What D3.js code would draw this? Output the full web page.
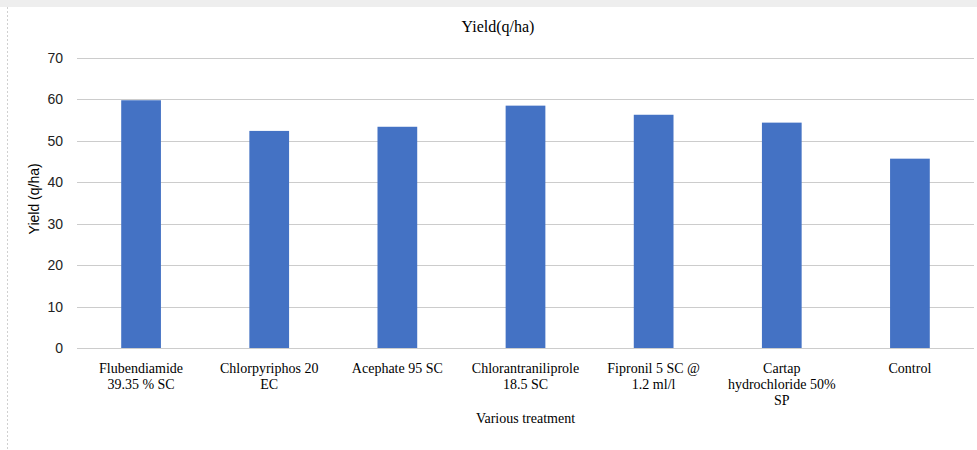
<!DOCTYPE html>
<head>
<meta charset="utf-8">
<style>
body { margin: 0; background: #fff; }
text { fill: #000; }
.xlab { font: 14px "Liberation Serif", serif; }
.ytick { font: 14px "Liberation Sans", sans-serif; fill: #222; }
</style>
</head>
<body>
<script src="https://cdn.jsdelivr.net/npm/d3@7"></script>
<script>
// chart data
var treatments = ["Flubendiamide 39.35 % SC", "Chlorpyriphos 20 EC", "Acephate 95 SC",
  "Chlorantraniliprole 18.5 SC", "Fipronil 5 SC @ 1.2 ml/l", "Cartap hydrochloride 50% SP", "Control"];
var labelLines = [
  ["Flubendiamide", "39.35 % SC"],
  ["Chlorpyriphos 20", "EC"],
  ["Acephate 95 SC"],
  ["Chlorantraniliprole", "18.5 SC"],
  ["Fipronil 5 SC @", "1.2 ml/l"],
  ["Cartap", "hydrochloride 50%", "SP"],
  ["Control"]
];
var yieldValues = [59.8, 52.4, 53.4, 58.5, 56.3, 54.4, 45.7];
var yTicks = [0, 10, 20, 30, 40, 50, 60, 70];

var width = 977, height = 450;
var margin = {left: 77, right: 3, top: 58, bottom: 102};

var svg = d3.select("body").append("svg")
    .attr("width", width)
    .attr("height", height);

// frame bits
svg.append("rect").attr("x", 0).attr("y", 0).attr("width", width).attr("height", 7).attr("fill", "#eeeeee");
svg.append("line").attr("x1", 7.5).attr("x2", 7.5).attr("y1", 7).attr("y2", height)
    .attr("stroke", "#d0d0d0").attr("stroke-dasharray", "2,2");

var x = d3.scaleBand()
    .domain(treatments)
    .range([margin.left, width - margin.right])
    .paddingInner(0.69)
    .paddingOuter(0.345);

var y = d3.scaleLinear()
    .domain([0, 70])
    .range([height - margin.bottom, margin.top]);

// gridlines
svg.append("g")
    .selectAll("line")
    .data(yTicks)
    .enter().append("line")
    .attr("x1", margin.left)
    .attr("x2", width - margin.right)
    .attr("y1", function(d) { return Math.round(y(d)) + 0.5; })
    .attr("y2", function(d) { return Math.round(y(d)) + 0.5; })
    .attr("stroke", "#cccccc")
    .attr("stroke-width", 1);

// y tick labels
svg.append("g")
    .selectAll("text")
    .data(yTicks)
    .enter().append("text")
    .attr("class", "ytick")
    .attr("x", 63)
    .attr("y", function(d) { return y(d) + 5; })
    .attr("text-anchor", "end")
    .text(function(d) { return d; });

// bars
svg.append("g")
    .selectAll("rect")
    .data(yieldValues)
    .enter().append("rect")
    .attr("x", function(d, i) { return x(treatments[i]); })
    .attr("y", function(d) { return y(d); })
    .attr("width", x.bandwidth())
    .attr("height", function(d) { return y(0) - y(d); })
    .attr("fill", "#4472c4");

// x labels
var xl = svg.append("g")
    .selectAll("text")
    .data(treatments)
    .enter().append("text")
    .attr("class", "xlab")
    .attr("text-anchor", "middle")
    .attr("x", function(d) { return x(d) + x.bandwidth() / 2; })
    .attr("y", 373);

xl.selectAll("tspan")
    .data(function(d, i) { return labelLines[i]; })
    .enter().append("tspan")
    .attr("x", function() { return d3.select(this.parentNode).attr("x"); })
    .attr("dy", function(d, i) { return i === 0 ? 0 : 16; })
    .text(function(d) { return d; });

// titles
svg.append("text")
    .attr("x", 498)
    .attr("y", 32)
    .attr("text-anchor", "middle")
    .style("font", "16px 'Liberation Serif', serif")
    .text("Yield(q/ha)");

svg.append("text")
    .attr("x", (margin.left + width - margin.right) / 2)
    .attr("y", 423)
    .attr("text-anchor", "middle")
    .style("font", "14px 'Liberation Serif', serif")
    .text("Various treatment");

svg.append("text")
    .attr("transform", "translate(39," + y(36) + ") rotate(-90)")
    .attr("text-anchor", "middle")
    .style("font", "14px 'Liberation Sans', sans-serif")
    .text("Yield (q/ha)");
</script>
</body>
